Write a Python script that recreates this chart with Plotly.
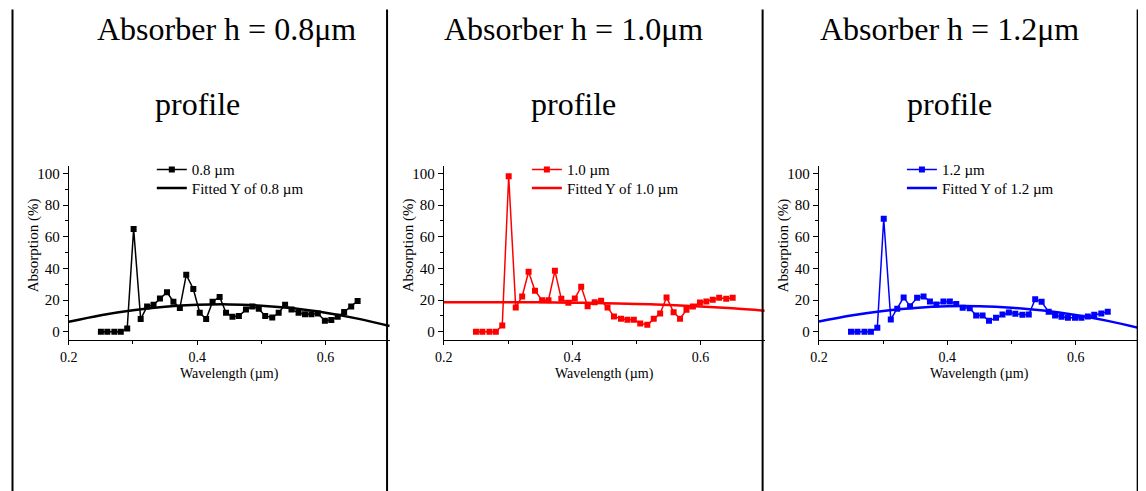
import plotly.graph_objects as go

W, H = 1146, 491

# ---------------- data ----------------
wavelength = [0.250, 0.260, 0.271, 0.281, 0.291, 0.301, 0.312, 0.322, 0.332, 0.342,
              0.353, 0.363, 0.373, 0.383, 0.394, 0.404, 0.414, 0.424, 0.435, 0.445,
              0.455, 0.465, 0.476, 0.486, 0.496, 0.506, 0.517, 0.527, 0.537, 0.547,
              0.558, 0.568, 0.578, 0.588, 0.599, 0.609, 0.619, 0.629, 0.640, 0.650]

abs_08 = [0, 0, 0, 0, 2, 65, 8, 16, 17, 21,
          25, 19, 15, 36, 27, 12, 8, 19, 22, 12,
          9.5, 10, 14, 16, 14.5, 10, 9, 12, 17, 14,
          12, 11, 11, 11.5, 7, 7.5, 9.5, 12.5, 16, 19.5]

abs_10 = [0, 0, 0, 0, 4, 98.3, 15.4, 22.3, 37.9, 26,
          20, 20, 38.5, 20.8, 18.3, 21, 28.4, 16.2, 18.7, 19.6,
          15.4, 9.7, 8.2, 7.6, 7.6, 5.3, 4.4, 8.2, 11.6, 21.7,
          12.4, 8.2, 13.9, 16, 18.5, 19.2, 20.2, 21.5, 20.8, 21.5]

abs_12 = [0, 0, 0, 0, 2.5, 71.4, 7.8, 14.5, 21.7, 16.2,
          21.5, 22.3, 19.2, 17.3, 19.2, 19.2, 17.5, 15.2, 14.9, 10.3,
          10.3, 6.9, 8.8, 10.9, 12.2, 11.4, 10.7, 10.9, 20.6, 18.9,
          12.6, 10.3, 9.5, 8.8, 8.8, 8.8, 9.7, 10.7, 11.6, 12.6]

fit_x = [0.20, 0.25, 0.30, 0.35, 0.40, 0.45, 0.50, 0.55, 0.60, 0.65, 0.70]
fit_08 = [6.3, 10.5, 13.6, 15.8, 17.0, 17.3, 16.5, 14.8, 12.0, 8.3, 3.6]
fit_10 = [18.7, 18.7, 18.7, 18.6, 18.4, 18.1, 17.6, 16.9, 16.0, 14.8, 13.3]
fit_12 = [6.5, 10.3, 13.2, 15.1, 16.1, 16.1, 15.2, 13.4, 10.6, 6.9, 2.3]

labels = ["0.8 µm", "1.0 µm", "1.2 µm"]
fit_labels = ["Fitted Y of 0.8 µm", "Fitted Y of 1.0 µm", "Fitted Y of 1.2 µm"]
titles = ["Absorber h = 0.8μm", "Absorber h = 1.0μm", "Absorber h = 1.2μm"]
subtitle = "profile"
colors = ["#000000", "#ff0000", "#0000ff"]
series = [abs_08, abs_10, abs_12]
fits = [fit_08, fit_10, fit_12]

x_ticks = [0.2, 0.4, 0.6]
y_ticks = [0, 20, 40, 60, 80, 100]

# ---------------- layout geometry (target pixels on screen) ----------------
FONT = "Liberation Serif"
OX, SX, OY = 16.5, 0.992, 8.5   # observed page offset / scale of the rendered figure


def PX(t):
    return (t - OX) / SX / W


def PY(t):
    return 1 - (t - OY) / H


x_origin_px = [68.3, 443.3, 818.3]   # pixel of x = 0.2 in each panel
px_per_x = 641.7                     # pixels per 1.0 µm
X_RANGE = [0.2, 0.7]
Y_RANGE = [-5, 105]
px_per_y = 1.583
y_bottom_px = 340.2
y_top_px = y_bottom_px - (Y_RANGE[1] - Y_RANGE[0]) * px_per_y
title_cx = [226, 573, 949]
profile_cx = [197, 573, 949]
sep_lines = [12, 386.5, 762, 1137]
legend_row_top = [153.7, 172.3]

fig = go.Figure()
annotations = []
shapes = []
layout_upd = {}

for i in range(3):
    n = "" if i == 0 else str(i + 1)
    xa, ya = "x" + n, "y" + n
    leg_a = "legend" if i == 0 else "legend" + str(2 * i + 1)
    leg_b = "legend" + str(2 * i + 2)
    fig.add_trace(go.Scatter(
        x=wavelength, y=series[i], name=labels[i], mode="lines+markers",
        line=dict(color=colors[i], width=1.5),
        marker=dict(symbol="square", size=6, color=colors[i]),
        xaxis=xa, yaxis=ya, legend=leg_a))
    fig.add_trace(go.Scatter(
        x=fit_x, y=fits[i], name=fit_labels[i], mode="lines",
        line=dict(color=colors[i], width=2.5, shape="spline"),
        xaxis=xa, yaxis=ya, legend=leg_b))

    x0 = x_origin_px[i]
    x1 = x0 + (X_RANGE[1] - X_RANGE[0]) * px_per_x
    common = dict(showgrid=False, zeroline=False, showline=True, linecolor="black",
                  linewidth=1.2, ticks="outside", tickcolor="black", tickwidth=1.2)
    layout_upd["xaxis" + n] = dict(
        domain=[PX(x0), PX(x1)], range=X_RANGE, anchor=ya,
        tickvals=x_ticks, ticklen=4,
        tickfont=dict(family=FONT, size=14, color="black"),
        minor=dict(tickvals=[0.3, 0.5], ticklen=3, ticks="outside",
                   tickcolor="black", tickwidth=1),
        **common)
    layout_upd["yaxis" + n] = dict(
        domain=[PY(y_bottom_px), PY(y_top_px)], range=Y_RANGE,
        anchor=xa, tickvals=y_ticks, ticklen=5,
        tickfont=dict(family=FONT, size=15, color="black"),
        minor=dict(tickvals=[10, 30, 50, 70, 90], ticklen=3,
                   ticks="outside", tickcolor="black", tickwidth=1),
        **common)
    for leg, top in zip([leg_a, leg_b], legend_row_top):
        layout_upd[leg] = dict(x=PX(x0 + 83), y=PY(top), xanchor="left", yanchor="top",
                               bgcolor="rgba(0,0,0,0)",
                               font=dict(family=FONT, size=15, color="black"),
                               itemwidth=30)

    # axis arrows
    annotations.append(dict(x=0.2, y=Y_RANGE[1] + 5, xref=xa, yref=ya, text="",
                            showarrow=True, ax=0, ay=9, arrowhead=2, arrowsize=1.6,
                            arrowwidth=1.2, arrowcolor="black"))
    annotations.append(dict(x=0.7 + 9.5 / px_per_x, y=Y_RANGE[0], xref=xa, yref=ya, text="",
                            showarrow=True, ax=-10, ay=0, arrowhead=2, arrowsize=1.6,
                            arrowwidth=1.2, arrowcolor="black"))
    # axis titles
    annotations.append(dict(x=PX((x0 + x1) / 2), y=PY(374), xref="paper", yref="paper",
                            text="Wavelength (µm)", showarrow=False,
                            font=dict(family=FONT, size=14, color="black"),
                            xanchor="center", yanchor="middle"))
    annotations.append(dict(x=PX(x0 - 35), y=PY(246), xref="paper", yref="paper",
                            text="Absorption (%)", showarrow=False, textangle=-90,
                            font=dict(family=FONT, size=15, color="black"),
                            xanchor="center", yanchor="middle"))
    # panel titles
    annotations.append(dict(x=PX(title_cx[i]), y=PY(30), xref="paper", yref="paper",
                            text=titles[i], showarrow=False,
                            font=dict(family=FONT, size=32, color="black"),
                            xanchor="center", yanchor="middle"))
    annotations.append(dict(x=PX(profile_cx[i]), y=PY(104), xref="paper", yref="paper",
                            text=subtitle, showarrow=False,
                            font=dict(family=FONT, size=32, color="black"),
                            xanchor="center", yanchor="middle"))

for sx in sep_lines:
    shapes.append(dict(type="line", xref="paper", yref="paper", x0=PX(sx), x1=PX(sx),
                       y0=0, y1=PY(10), line=dict(color="black", width=2)))

fig.update_layout(**layout_upd)
fig.update_layout(
    width=W, height=H, margin=dict(l=0, r=0, t=0, b=0),
    paper_bgcolor="white", plot_bgcolor="white",
    font=dict(family=FONT, color="black"),
    annotations=annotations, shapes=shapes, showlegend=True,
)

fig.write_html("out.html")
